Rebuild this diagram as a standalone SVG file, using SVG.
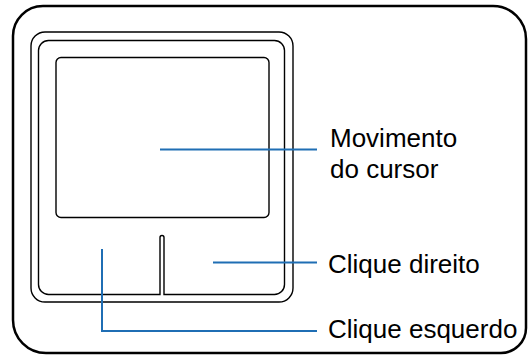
<svg xmlns="http://www.w3.org/2000/svg" width="530" height="355" viewBox="0 0 530 355">
<style>
.frame{fill:none;stroke:#000;stroke-width:2.5}
.pad{fill:none;stroke:#000;stroke-width:1.4}
.lead{fill:none;stroke:#1f6eb4;stroke-width:2}
.lbl{font-family:"Liberation Sans",Arial,sans-serif;font-size:26px;fill:#000}
</style>
<rect width="530" height="355" fill="#fff"/>
<g id="case">
<path class="frame" d="M43 6H493A33 33 0 0 1 526 39V328A25 25 0 0 1 501 353H46A33 33 0 0 1 13 320V36A30 30 0 0 1 43 6Z"/>
</g>
<g id="touchpad">
<rect class="pad" x="31" y="32" width="262" height="270" rx="14"/>
<path class="pad" d="M160 294.5V237.5A2 2 0 0 1 164 237.5V294.5H274.5A10 10 0 0 0 284.5 284.5V50.5A10 10 0 0 0 274.5 40.5H48.5A10 10 0 0 0 38.5 50.5V284.5A10 10 0 0 0 48.5 294.5Z"/>
<rect class="pad" x="56" y="57.5" width="213" height="160" rx="5"/>
</g>
<g id="connectors">
<path class="lead" d="M160 149.5H317"/>
<path class="lead" d="M213 262.5H317"/>
<path class="lead" d="M102 249V331H317"/>
</g>
<g id="label-cursor">
<text class="lbl" x="330" y="147">Movimento</text>
<text class="lbl" x="330" y="177.5">do cursor</text>
</g>
<g id="label-right">
<text class="lbl" x="328" y="272.5">Clique direito</text>
</g>
<g id="label-left">
<text class="lbl" x="328" y="338">Clique esquerdo</text>
</g>
</svg>
